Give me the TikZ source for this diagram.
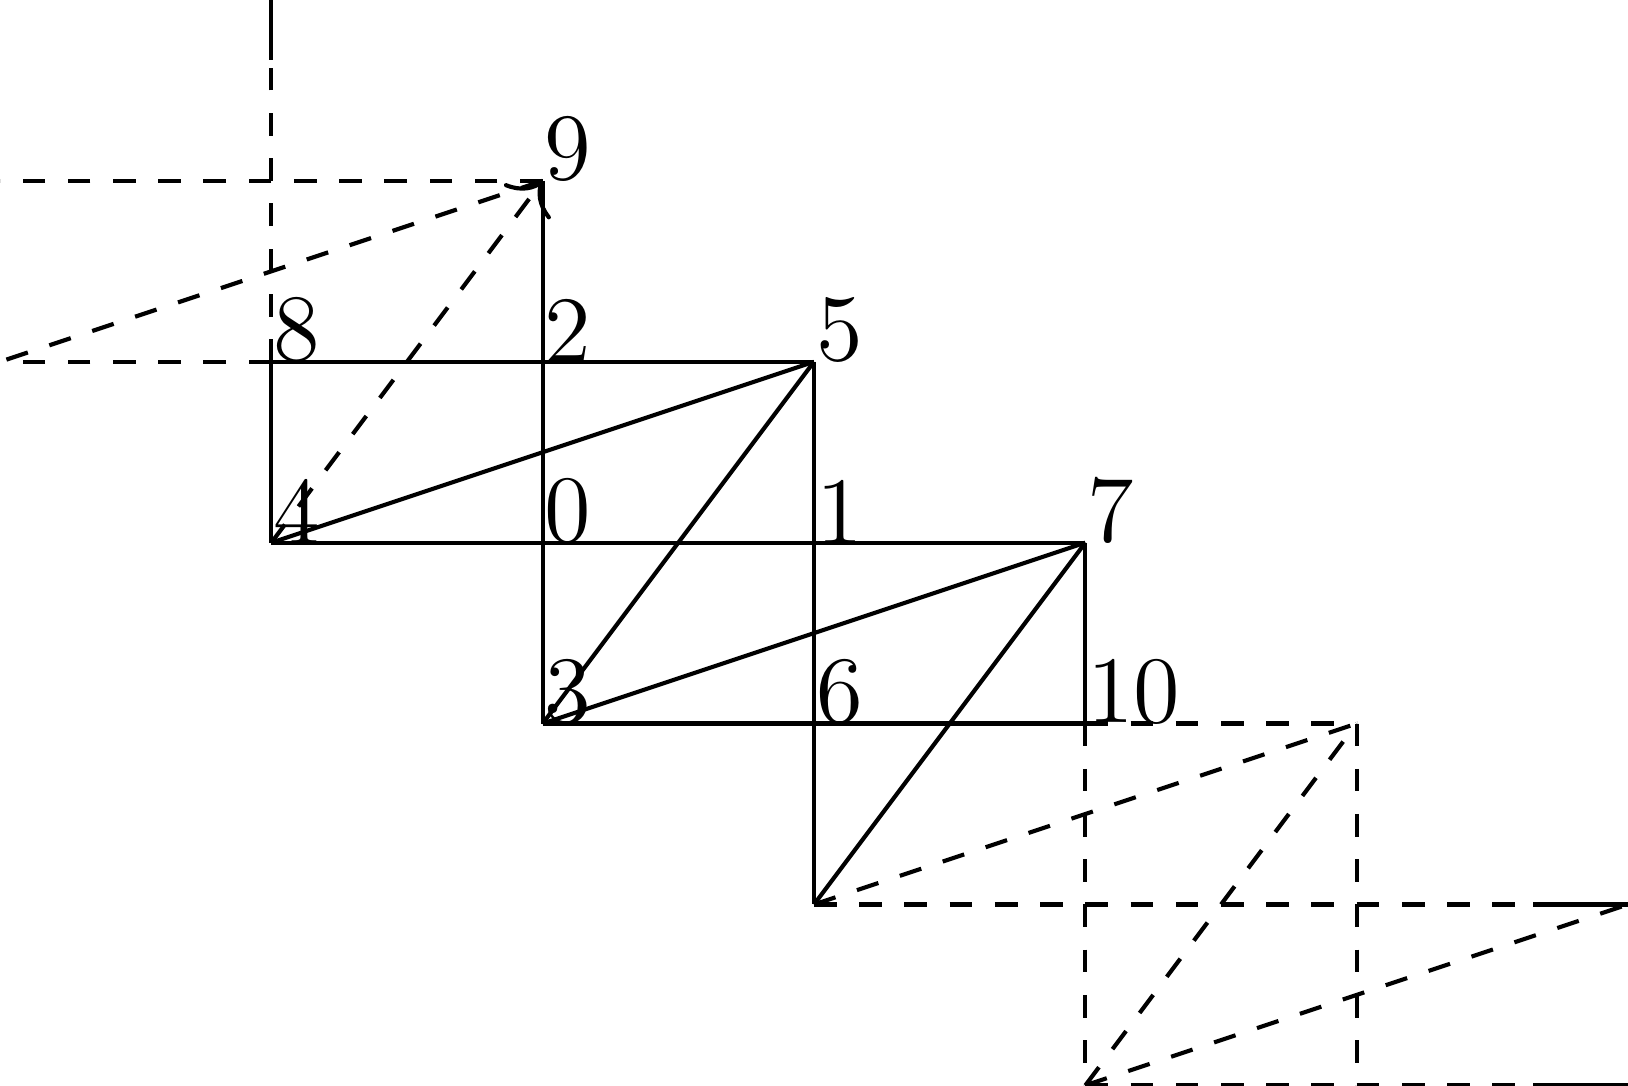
\documentclass[tikz,border=0pt]{standalone}
\usetikzlibrary{positioning, arrows.meta}

\begin{document}
\begin{tikzpicture}[
      x=36pt, y=24pt, line width=0.55pt,
      lbl/.style={anchor=south west, inner sep=0pt, yshift=-0.4pt, font=\fontsize{12.6}{15}\selectfont},
      ghost/.style={dashed},
      arrow/.style={-{To[scale=1.3]}}
    ]
      \useasboundingbox (-2,-3) rectangle (4,3);
      \clip (-2,-3) rectangle (4,3);

      % numbered points
      \coordinate (n0) at (0,0);
      \coordinate (n1) at (1,0);
      \coordinate (n2) at (0,1);
      \coordinate (n3) at (0,-1);
      \coordinate (n4) at (-1,0);
      \coordinate (n5) at (1,1);
      \coordinate (n6) at (1,-1);
      \coordinate (n7) at (2,0);
      \coordinate (n8) at (-1,1);
      \coordinate (n9) at (0,2);
      \coordinate (n10) at (2,-1);
      % points without number
      \coordinate (s1) at (1,-2);
      \coordinate (s2) at (3,-1);
      \coordinate (s3) at (2,-3);
      \coordinate (s4) at (3,-3);
      \coordinate (s5) at (4,-2);
      \coordinate (s6) at (4,-3);
      \coordinate (w1) at (-2,2);
      \coordinate (w2) at (-2,1);
      \coordinate (w3) at (-1,3);
      \coordinate (t1) at (-1,2.67);
      \coordinate (t2) at (3.65,-2);
      \coordinate (t3) at (3.65,-3);

      % solid edges
      \draw (n8) -- (n2) -- (n5);
      \draw (n4) -- (n0) -- (n1) -- (n7);
      \draw (n3) -- (n6) -- (n10);
      \draw (n8) -- (n4);
      \draw (n9) -- (n2) -- (n0) -- (n3);
      \draw (n5) -- (n1) -- (n6) -- (s1);
      \draw (n7) -- (n10);
      \draw (n4) -- (n5);
      \draw (n3) -- (n5);
      \draw (n3) -- (n7);
      \draw (s1) -- (n7);
      \draw (t1) -- (w3);
      \draw (t2) -- (s5);
      \draw (t3) -- (s6);

      % dashed edges
      \draw[ghost] (n9) -- (w1);
      \draw[ghost] (n8) -- (w2);
      \draw[ghost] (n8) -- (w3);
      \draw[ghost] (n9) -- (w2);
      \draw[ghost, arrow] (n4) -- (n9);
      \draw[ghost] (n10) -- (s2);
      \draw[ghost] (n10) -- (s3);
      \draw[ghost] (s2) -- (s4);
      \draw[ghost] (s1) -- (s5);
      \draw[ghost] (s3) -- (s6);
      \draw[ghost] (s1) -- (s2);
      \draw[ghost] (s3) -- (s2);
      \draw[ghost] (s3) -- (s5);

      % labels
      \node[lbl] (l0) at (n0) {0};
      \node[lbl] (l1) at (n1) {1};
      \node[lbl] (l2) at (n2) {2};
      \node[lbl] (l3) at (n3) {3};
      \node[lbl] (l4) at (n4) {4};
      \node[lbl] (l5) at (n5) {5};
      \node[lbl] (l6) at (n6) {6};
      \node[lbl] (l7) at (n7) {7};
      \node[lbl] (l8) at (n8) {8};
      \node[lbl] (l9) at (n9) {9};
      \node[lbl] (l10) at (n10) {10};
    \end{tikzpicture}
\end{document}
